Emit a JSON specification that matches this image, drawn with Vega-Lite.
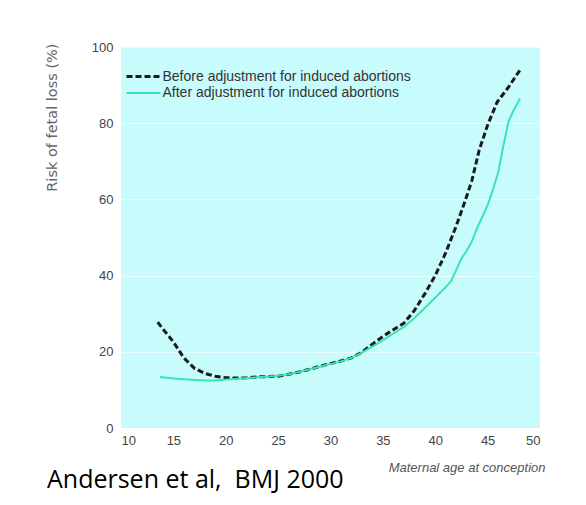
{
  "$schema": "https://vega.github.io/schema/vega-lite/v6.json",
  "width": 419,
  "height": 381,
  "autosize": {"type": "none"},
  "padding": {"left": 121, "top": 47, "right": 46, "bottom": 77},
  "background": "white",
  "title": {
    "text": "Andersen et al,\u00a0 BMJ 2000",
    "orient": "bottom",
    "anchor": "start",
    "frame": "group",
    "dx": -74,
    "offset": -6,
    "font": "Open Sans",
    "fontSize": 25,
    "fontWeight": "normal",
    "color": "#000000"
  },
  "config": {
    "view": {"fill": "#c8fcfc", "stroke": null},
    "axis": {
      "domain": false,
      "ticks": false,
      "labelFont": "Liberation Sans",
      "labelFontSize": 13,
      "labelColor": "#444444",
      "titleFont": "Liberation Sans",
      "titleFontWeight": "normal",
      "titleColor": "#555555"
    }
  },
  "data": {
    "values": [
      {"series": "Before adjustment for induced abortions", "age": 13.5, "risk": 27.8},
      {"series": "Before adjustment for induced abortions", "age": 14, "risk": 26.0},
      {"series": "Before adjustment for induced abortions", "age": 15, "risk": 22.6},
      {"series": "Before adjustment for induced abortions", "age": 16, "risk": 18.4},
      {"series": "Before adjustment for induced abortions", "age": 17, "risk": 15.7},
      {"series": "Before adjustment for induced abortions", "age": 18, "risk": 14.3},
      {"series": "Before adjustment for induced abortions", "age": 19, "risk": 13.6},
      {"series": "Before adjustment for induced abortions", "age": 20, "risk": 13.2},
      {"series": "Before adjustment for induced abortions", "age": 21, "risk": 13.1},
      {"series": "Before adjustment for induced abortions", "age": 22, "risk": 13.2},
      {"series": "Before adjustment for induced abortions", "age": 23, "risk": 13.4},
      {"series": "Before adjustment for induced abortions", "age": 24, "risk": 13.5},
      {"series": "Before adjustment for induced abortions", "age": 25, "risk": 13.6},
      {"series": "Before adjustment for induced abortions", "age": 26, "risk": 14.1},
      {"series": "Before adjustment for induced abortions", "age": 27, "risk": 14.7},
      {"series": "Before adjustment for induced abortions", "age": 28, "risk": 15.4},
      {"series": "Before adjustment for induced abortions", "age": 29, "risk": 16.2},
      {"series": "Before adjustment for induced abortions", "age": 30, "risk": 16.9},
      {"series": "Before adjustment for induced abortions", "age": 31, "risk": 17.6},
      {"series": "Before adjustment for induced abortions", "age": 32, "risk": 18.4},
      {"series": "Before adjustment for induced abortions", "age": 33, "risk": 19.9},
      {"series": "Before adjustment for induced abortions", "age": 34, "risk": 22.0},
      {"series": "Before adjustment for induced abortions", "age": 35, "risk": 24.0},
      {"series": "Before adjustment for induced abortions", "age": 36, "risk": 25.8},
      {"series": "Before adjustment for induced abortions", "age": 37, "risk": 27.5},
      {"series": "Before adjustment for induced abortions", "age": 38, "risk": 30.8},
      {"series": "Before adjustment for induced abortions", "age": 39, "risk": 35.2},
      {"series": "Before adjustment for induced abortions", "age": 40, "risk": 40.0},
      {"series": "Before adjustment for induced abortions", "age": 41, "risk": 46.0},
      {"series": "Before adjustment for induced abortions", "age": 42, "risk": 53.0},
      {"series": "Before adjustment for induced abortions", "age": 43, "risk": 60.8},
      {"series": "Before adjustment for induced abortions", "age": 43.5, "risk": 65.0},
      {"series": "Before adjustment for induced abortions", "age": 44.2, "risk": 73.0},
      {"series": "Before adjustment for induced abortions", "age": 45, "risk": 79.5},
      {"series": "Before adjustment for induced abortions", "age": 45.9, "risk": 85.5},
      {"series": "Before adjustment for induced abortions", "age": 47, "risk": 89.5},
      {"series": "Before adjustment for induced abortions", "age": 48.1, "risk": 94.0},
      {"series": "After adjustment for induced abortions", "age": 13.7, "risk": 13.4},
      {"series": "After adjustment for induced abortions", "age": 15, "risk": 13.0},
      {"series": "After adjustment for induced abortions", "age": 16, "risk": 12.8},
      {"series": "After adjustment for induced abortions", "age": 17, "risk": 12.6},
      {"series": "After adjustment for induced abortions", "age": 18, "risk": 12.5},
      {"series": "After adjustment for induced abortions", "age": 19, "risk": 12.5},
      {"series": "After adjustment for induced abortions", "age": 20, "risk": 12.7},
      {"series": "After adjustment for induced abortions", "age": 21, "risk": 12.9},
      {"series": "After adjustment for induced abortions", "age": 22, "risk": 13.1},
      {"series": "After adjustment for induced abortions", "age": 23, "risk": 13.3},
      {"series": "After adjustment for induced abortions", "age": 24, "risk": 13.5},
      {"series": "After adjustment for induced abortions", "age": 25, "risk": 13.7},
      {"series": "After adjustment for induced abortions", "age": 26, "risk": 14.1},
      {"series": "After adjustment for induced abortions", "age": 27, "risk": 14.7},
      {"series": "After adjustment for induced abortions", "age": 28, "risk": 15.4},
      {"series": "After adjustment for induced abortions", "age": 29, "risk": 16.1},
      {"series": "After adjustment for induced abortions", "age": 30, "risk": 16.8},
      {"series": "After adjustment for induced abortions", "age": 31, "risk": 17.5},
      {"series": "After adjustment for induced abortions", "age": 32, "risk": 18.4},
      {"series": "After adjustment for induced abortions", "age": 33, "risk": 19.8},
      {"series": "After adjustment for induced abortions", "age": 34, "risk": 21.4},
      {"series": "After adjustment for induced abortions", "age": 35, "risk": 23.0},
      {"series": "After adjustment for induced abortions", "age": 36, "risk": 24.8},
      {"series": "After adjustment for induced abortions", "age": 37, "risk": 26.5},
      {"series": "After adjustment for induced abortions", "age": 38, "risk": 28.8},
      {"series": "After adjustment for induced abortions", "age": 39, "risk": 31.5},
      {"series": "After adjustment for induced abortions", "age": 40, "risk": 34.2},
      {"series": "After adjustment for induced abortions", "age": 41, "risk": 37.0},
      {"series": "After adjustment for induced abortions", "age": 41.5, "risk": 38.5},
      {"series": "After adjustment for induced abortions", "age": 42, "risk": 41.5},
      {"series": "After adjustment for induced abortions", "age": 42.5, "risk": 44.5},
      {"series": "After adjustment for induced abortions", "age": 43, "risk": 46.5},
      {"series": "After adjustment for induced abortions", "age": 43.5, "risk": 49.0},
      {"series": "After adjustment for induced abortions", "age": 44, "risk": 52.5},
      {"series": "After adjustment for induced abortions", "age": 44.5, "risk": 55.5},
      {"series": "After adjustment for induced abortions", "age": 45, "risk": 58.5},
      {"series": "After adjustment for induced abortions", "age": 45.5, "risk": 62.5},
      {"series": "After adjustment for induced abortions", "age": 46, "risk": 67.0},
      {"series": "After adjustment for induced abortions", "age": 46.5, "risk": 74.0},
      {"series": "After adjustment for induced abortions", "age": 47, "risk": 80.5},
      {"series": "After adjustment for induced abortions", "age": 47.5, "risk": 83.5},
      {"series": "After adjustment for induced abortions", "age": 48.1, "risk": 86.5}
    ]
  },
  "mark": {"type": "line", "strokeCap": "butt"},
  "encoding": {
    "x": {
      "field": "age",
      "type": "quantitative",
      "scale": {"domain": [10, 50], "nice": false, "zero": false},
      "axis": {
        "values": [10, 15, 20, 25, 30, 35, 40, 45, 50],
        "grid": false,
        "labelPadding": 6,
        "title": "Maternal age at conception",
        "titleX": 424,
        "titleAlign": "right",
        "titleFontStyle": "italic",
        "titleFontSize": 13,
        "titlePadding": 14
      }
    },
    "y": {
      "field": "risk",
      "type": "quantitative",
      "scale": {"domain": [0, 100], "nice": false},
      "axis": {
        "values": [0, 20, 40, 60, 80, 100],
        "grid": true,
        "gridColor": "#ffffff",
        "gridOpacity": 0.6,
        "labelPadding": 8,
        "title": "Risk of fetal loss (%)",
        "titleFont": "DejaVu Sans",
        "titleFontSize": 14.5,
        "titleColor": "#666666",
        "titleX": -69,
        "titleY": -4,
        "titleAngle": -90,
        "titleAlign": "right",
        "titleBaseline": "middle"
      }
    },
    "color": {
      "field": "series",
      "type": "nominal",
      "sort": ["Before adjustment for induced abortions", "After adjustment for induced abortions"],
      "scale": {
        "domain": ["Before adjustment for induced abortions", "After adjustment for induced abortions"],
        "range": ["#1a1a1a", "#38e4b4"]
      },
      "legend": {
        "orient": "none",
        "legendX": 12.5,
        "legendY": 19.5,
        "title": null,
        "padding": 0,
        "symbolType": "M-2,0H2",
        "symbolSize": 289,
        "symbolStrokeWidth": 2,
        "labelFont": "Liberation Sans",
        "labelFontSize": 14,
        "labelColor": "#333333",
        "labelOffset": 9,
        "labelLimit": 0,
        "rowPadding": 0
      }
    },
    "strokeDash": {
      "field": "series",
      "type": "nominal",
      "sort": ["Before adjustment for induced abortions", "After adjustment for induced abortions"],
      "scale": {
        "domain": ["Before adjustment for induced abortions", "After adjustment for induced abortions"],
        "range": [[6, 3], [1, 0]]
      },
      "legend": {
        "orient": "none",
        "legendX": 12.5,
        "legendY": 19.5,
        "title": null,
        "padding": 0,
        "symbolType": "M-2,0H2",
        "symbolSize": 289,
        "symbolStrokeWidth": 2,
        "labelFont": "Liberation Sans",
        "labelFontSize": 14,
        "labelColor": "#333333",
        "labelOffset": 9,
        "labelLimit": 0,
        "rowPadding": 0
      }
    },
    "strokeWidth": {
      "field": "series",
      "type": "nominal",
      "sort": ["Before adjustment for induced abortions", "After adjustment for induced abortions"],
      "scale": {
        "domain": ["Before adjustment for induced abortions", "After adjustment for induced abortions"],
        "range": [3, 2]
      },
      "legend": null
    }
  }
}
